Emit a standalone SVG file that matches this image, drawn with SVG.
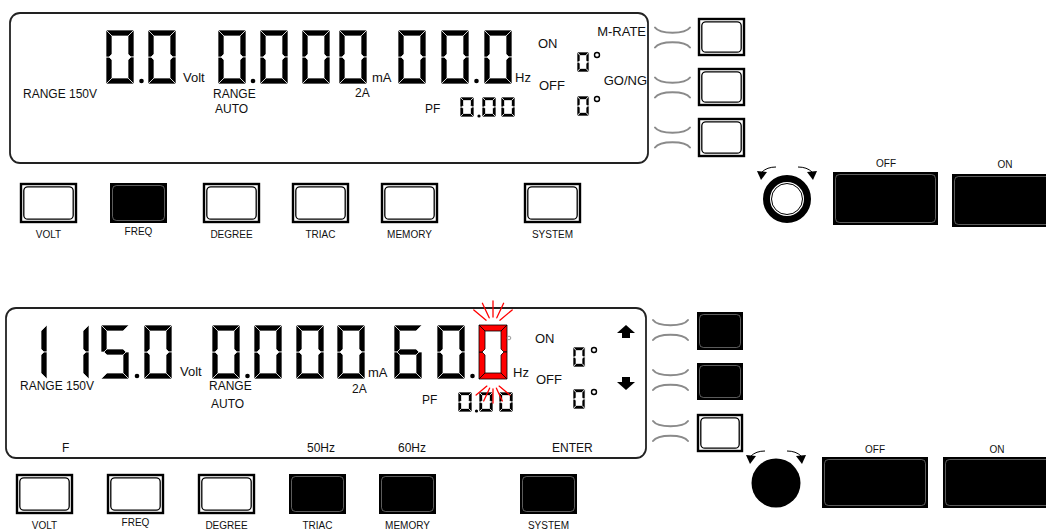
<svg xmlns="http://www.w3.org/2000/svg" width="1046" height="532" viewBox="0 0 1046 532">
<style>
text{font-family:"Liberation Sans",Arial,sans-serif;fill:#111}
.t12{font-size:12px}.t13{font-size:13px}.t10{font-size:10px;text-anchor:middle}
.end{text-anchor:end}
.panel{fill:#fff;stroke:#222;stroke-width:1.8}
.brk path{fill:none;stroke:#8a8a8a;stroke-width:2;stroke-linecap:round}
.bw{fill:#fff;stroke:#000;stroke-width:2.4}
.bwi{fill:#fff;stroke:#000;stroke-width:1.3}
.bb{fill:#000}
.bbi{fill:none;stroke:#9a9a9a;stroke-width:.6}
.dk{fill:#000;stroke:#fff;stroke-width:.7}
.dr{fill:#f00;stroke:#000;stroke-width:.8}
.dot{fill:#000}
.deg{fill:none;stroke:#000;stroke-width:1.4}
.ray{stroke:#f00;stroke-width:1.3;stroke-linecap:round}
.karr path{fill:none;stroke:#000;stroke-width:1}
.karr polygon{fill:#000}
</style>
<defs>
<polygon id="sa" points="0,0 28,0 22,6 6,6"/>
<polygon id="sb" points="28,0 28,27 25,27 22,24 22,6"/>
<polygon id="sc" points="28,27 28,54 22,48 22,30 25,27"/>
<polygon id="sd" points="0,54 28,54 22,48 6,48"/>
<polygon id="se" points="0,27 3,27 6,30 6,48 0,54"/>
<polygon id="sf" points="0,0 6,6 6,24 3,27 0,27"/>
<polygon id="sg" points="3,27 6,24 22,24 25,27 22,30 6,30"/>
<g id="d0"><use href="#sa"/><use href="#sb"/><use href="#sc"/><use href="#sd"/><use href="#se"/><use href="#sf"/></g>
<g id="d1"><use href="#sb"/><use href="#sc"/></g>
<g id="d5"><use href="#sa"/><use href="#sf"/><use href="#sg"/><use href="#sc"/><use href="#sd"/></g>
<g id="d6"><use href="#sa"/><use href="#sf"/><use href="#sg"/><use href="#se"/><use href="#sc"/><use href="#sd"/></g>
<g id="s0">
<polygon points="0,0 14,0 10.5,3.5 3.5,3.5"/>
<polygon points="14,0 14,10 12.25,10 10.5,8.25 10.5,3.5"/>
<polygon points="14,10 14,20 10.5,16.5 10.5,11.75 12.25,10"/>
<polygon points="0,20 14,20 10.5,16.5 3.5,16.5"/>
<polygon points="0,10 1.75,10 3.5,11.75 3.5,16.5 0,20"/>
<polygon points="0,0 3.5,3.5 3.5,8.25 1.75,10 0,10"/>
</g>
<g id="brk" class="brk"><path d="M0 -10 C5 -3 30 -3 35 -10"/><path d="M0 10 C5 3 30 3 35 10"/></g>
<g id="karr" class="karr">
<path d="M-11 -32 Q-20 -32 -25 -27"/><polygon points="-26,-19 -30,-28 -20,-27"/>
<path d="M11 -32 Q20 -32 25 -27"/><polygon points="26,-19 30,-28 20,-27"/>
</g>
</defs>

<!-- ===== TOP UNIT ===== -->
<g id="top-display">
<rect class="panel" x="10" y="13" width="638" height="150" rx="10"/>
<g class="dk">
<use href="#d0" x="106" y="30"/><use href="#d0" x="148" y="30"/>
<use href="#d0" x="218" y="30"/><use href="#d0" x="260" y="30"/><use href="#d0" x="302" y="30"/><use href="#d0" x="339" y="30"/>
<use href="#d0" x="398" y="30"/><use href="#d0" x="441" y="30"/><use href="#d0" x="484" y="30"/>
<use href="#s0" x="460" y="97"/><use href="#s0" x="482" y="97"/><use href="#s0" x="501" y="97"/>
<use href="#s0" transform="translate(577 52) scale(0.86 1)"/>
<use href="#s0" transform="translate(577 96) scale(0.86 1)"/>
</g>
<circle class="dot" cx="141.5" cy="81" r="2.3"/><circle class="dot" cx="253" cy="81" r="2.3"/><circle class="dot" cx="476.5" cy="81" r="2.3"/>
<circle class="dot" cx="479" cy="116" r="1.6"/>
<circle class="deg" cx="597" cy="55" r="2.5"/><circle class="deg" cx="597" cy="99" r="2.5"/>
<text class="t12" x="23" y="98">RANGE 150V</text>
<text class="t13" x="183" y="82">Volt</text>
<text class="t12" x="213" y="98">RANGE</text>
<text class="t12" x="215" y="113">AUTO</text>
<text class="t13" x="372" y="82">mA</text>
<text class="t12" x="355" y="97">2A</text>
<text class="t13" x="515" y="82">Hz</text>
<text class="t12" x="425" y="113">PF</text>
<text class="t13" x="538" y="48">ON</text>
<text class="t13" x="539" y="90">OFF</text>
<text class="t13 end" x="646" y="36">M-RATE</text>
<text class="t13 end" x="647" y="85">GO/NG</text>
</g>
<g id="top-brackets">
<use href="#brk" x="655" y="37.5"/><use href="#brk" x="655" y="87.5"/><use href="#brk" x="655" y="137.5"/>
</g>
<g id="top-side-1"><rect class="bw" x="699" y="19" width="45" height="36"/><rect class="bwi" x="701.8" y="21.8" width="39.4" height="30.4" rx="4"/></g>
<g id="top-side-2"><rect class="bw" x="699" y="69" width="45" height="36"/><rect class="bwi" x="701.8" y="71.8" width="39.4" height="30.4" rx="4"/></g>
<g id="top-side-3"><rect class="bw" x="699" y="119" width="45" height="37"/><rect class="bwi" x="701.8" y="121.8" width="39.4" height="31.4" rx="4"/></g>
<g id="top-volt"><rect class="bw" x="21" y="184" width="55" height="38"/><rect class="bwi" x="23.8" y="186.8" width="49.4" height="32.4" rx="4"/><text class="t10" x="48.5" y="238">VOLT</text></g>
<g id="top-freq"><rect class="bb" x="110" y="183" width="57" height="40"/><rect class="bbi" x="112.5" y="185.5" width="52" height="35" rx="4"/><text class="t10" x="138.5" y="235">FREQ</text></g>
<g id="top-degree"><rect class="bw" x="204" y="184" width="55" height="38"/><rect class="bwi" x="206.8" y="186.8" width="49.4" height="32.4" rx="4"/><text class="t10" x="231.5" y="238">DEGREE</text></g>
<g id="top-triac"><rect class="bw" x="293" y="184" width="55" height="38"/><rect class="bwi" x="295.8" y="186.8" width="49.4" height="32.4" rx="4"/><text class="t10" x="320.5" y="238">TRIAC</text></g>
<g id="top-memory"><rect class="bw" x="382" y="184" width="55" height="38"/><rect class="bwi" x="384.8" y="186.8" width="49.4" height="32.4" rx="4"/><text class="t10" x="409.5" y="238">MEMORY</text></g>
<g id="top-system"><rect class="bw" x="525" y="184" width="55" height="38"/><rect class="bwi" x="527.8" y="186.8" width="49.4" height="32.4" rx="4"/><text class="t10" x="552.5" y="238">SYSTEM</text></g>
<g id="top-knob">
<circle cx="787" cy="199" r="20.5" fill="#fff" stroke="#000" stroke-width="7"/>
<circle cx="787" cy="199" r="15.5" fill="none" stroke="#000" stroke-width="1"/>
<use href="#karr" x="787" y="199"/>
</g>
<g id="top-off"><rect class="bb" x="833" y="172" width="105" height="53"/><rect class="bbi" x="835.5" y="174.5" width="100" height="48" rx="4"/><text class="t10" x="886" y="167">OFF</text></g>
<g id="top-on"><rect class="bb" x="952" y="174" width="100" height="53"/><rect class="bbi" x="954.5" y="176.5" width="100" height="48" rx="4"/><text class="t10" x="1005" y="168">ON</text></g>

<!-- ===== BOTTOM UNIT ===== -->
<g id="bottom-display">
<rect class="panel" x="6" y="308" width="640" height="150" rx="10"/>
<g class="dk">
<use href="#d1" x="19" y="325"/><use href="#d1" x="61" y="325"/><use href="#d5" x="101" y="325"/><use href="#d0" x="144" y="325"/>
<use href="#d0" x="212" y="325"/><use href="#d0" x="254" y="325"/><use href="#d0" x="296" y="325"/><use href="#d0" x="337" y="325"/>
<use href="#d6" x="394" y="325"/><use href="#d0" x="437" y="325"/>
<use href="#s0" x="458" y="392"/><use href="#s0" x="479" y="392"/><use href="#s0" x="499" y="392"/>
<use href="#s0" transform="translate(573 347) scale(0.86 1)"/>
<use href="#s0" transform="translate(573 389) scale(0.86 1)"/>
</g>
<use class="dr" href="#d0" x="479" y="325"/>
<circle class="dot" cx="137" cy="376" r="2.3"/><circle class="dot" cx="247.5" cy="376" r="2.3"/><circle class="dot" cx="472.5" cy="376" r="2.3"/>
<circle class="dot" cx="476.5" cy="411" r="1.6"/>
<circle cx="509" cy="338" r="1.8" fill="none" stroke="#999" stroke-width="1"/>
<circle class="deg" cx="594" cy="350" r="2.5"/><circle class="deg" cx="594" cy="392" r="2.5"/>
<g class="ray">
<line x1="493" y1="317" x2="493" y2="301"/>
<line x1="489.2" y1="317.8" x2="482.4" y2="303.3"/><line x1="496.8" y1="317.8" x2="503.6" y2="303.3"/>
<line x1="486.1" y1="320.2" x2="473.8" y2="309.9"/><line x1="499.9" y1="320.2" x2="512.2" y2="309.9"/>
<line x1="493" y1="389" x2="493" y2="403"/>
<line x1="489.6" y1="388.2" x2="483.7" y2="401"/><line x1="496.4" y1="388.2" x2="502.3" y2="401"/>
<line x1="486.9" y1="386.1" x2="476.1" y2="395.1"/><line x1="499.1" y1="386.1" x2="509.9" y2="395.1"/>
</g>
<polygon points="626,325 635,333 630,333 630,338 622,338 622,333 617,333" fill="#000"/>
<polygon points="626,390 635,382 630,382 630,377 622,377 622,382 617,382" fill="#000"/>
<text class="t12" x="20" y="390">RANGE 150V</text>
<text class="t13" x="180" y="376">Volt</text>
<text class="t12" x="209" y="390">RANGE</text>
<text class="t12" x="211" y="408">AUTO</text>
<text class="t13" x="368" y="377">mA</text>
<text class="t12" x="352" y="393">2A</text>
<text class="t13" x="513" y="377">Hz</text>
<text class="t12" x="422" y="404">PF</text>
<text class="t13" x="535" y="343">ON</text>
<text class="t13" x="536" y="384">OFF</text>
<text class="t12" x="62" y="452">F</text>
<text class="t12" x="307" y="452">50Hz</text>
<text class="t12" x="398" y="452">60Hz</text>
<text class="t12" x="552" y="452">ENTER</text>
</g>
<g id="bottom-brackets">
<use href="#brk" x="653" y="330"/><use href="#brk" x="653" y="380"/><use href="#brk" x="653" y="431"/>
</g>
<g id="bottom-side-1"><rect class="bb" x="697" y="312" width="46" height="38"/><rect class="bbi" x="699.5" y="314.5" width="41" height="33" rx="4"/></g>
<g id="bottom-side-2"><rect class="bb" x="697" y="363" width="46" height="37"/><rect class="bbi" x="699.5" y="365.5" width="41" height="32" rx="4"/></g>
<g id="bottom-side-3"><rect class="bw" x="698" y="415" width="44" height="36"/><rect class="bwi" x="700.8" y="417.8" width="38.4" height="30.4" rx="4"/></g>
<g id="bottom-volt"><rect class="bw" x="17" y="475" width="55" height="38"/><rect class="bwi" x="19.8" y="477.8" width="49.4" height="32.4" rx="4"/><text class="t10" x="44.5" y="529">VOLT</text></g>
<g id="bottom-freq"><rect class="bw" x="108" y="475" width="55" height="38"/><rect class="bwi" x="110.8" y="477.8" width="49.4" height="32.4" rx="4"/><text class="t10" x="135.5" y="526">FREQ</text></g>
<g id="bottom-degree"><rect class="bw" x="199" y="475" width="55" height="38"/><rect class="bwi" x="201.8" y="477.8" width="49.4" height="32.4" rx="4"/><text class="t10" x="226.5" y="529">DEGREE</text></g>
<g id="bottom-triac"><rect class="bb" x="289" y="474" width="57" height="40"/><rect class="bbi" x="291.5" y="476.5" width="52" height="35" rx="4"/><text class="t10" x="317.5" y="529">TRIAC</text></g>
<g id="bottom-memory"><rect class="bb" x="379" y="474" width="57" height="40"/><rect class="bbi" x="381.5" y="476.5" width="52" height="35" rx="4"/><text class="t10" x="407.5" y="529">MEMORY</text></g>
<g id="bottom-system"><rect class="bb" x="520" y="474" width="57" height="40"/><rect class="bbi" x="522.5" y="476.5" width="52" height="35" rx="4"/><text class="t10" x="548.5" y="529">SYSTEM</text></g>
<g id="bottom-knob">
<circle cx="776" cy="483" r="24.5" fill="#000"/>
<use href="#karr" x="776" y="483"/>
</g>
<g id="bottom-off"><rect class="bb" x="822" y="457" width="106" height="51"/><rect class="bbi" x="824.5" y="459.5" width="101" height="46" rx="4"/><text class="t10" x="875" y="453">OFF</text></g>
<g id="bottom-on"><rect class="bb" x="943" y="457" width="105" height="51"/><rect class="bbi" x="945.5" y="459.5" width="105" height="46" rx="4"/><text class="t10" x="997" y="453">ON</text></g>
</svg>
